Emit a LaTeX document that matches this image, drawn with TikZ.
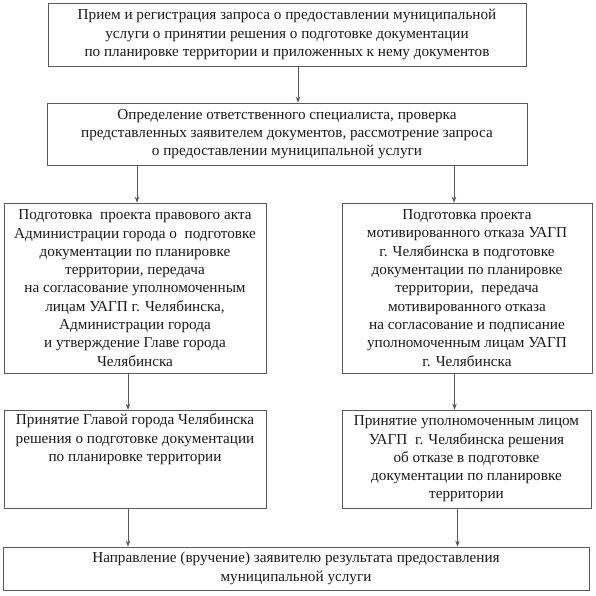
\documentclass[tikz,border=0pt]{standalone}
\usepackage{fontspec}
\setmainfont{Liberation Serif}
\usetikzlibrary{arrows.meta,calc}
\definecolor{ln}{gray}{0.35}
\definecolor{tx}{gray}{0.1}
\tikzset{
  box/.style={draw=ln, line width=0.7pt, rectangle, align=center, inner sep=0pt,
    font=\fontsize{15.2}{18.3}\selectfont, text=tx},
  arr/.style={draw=ln, line width=0.6pt, -{Stealth[length=6pt,width=4.5pt]}}
}
\begin{document}
\begin{tikzpicture}[x=1pt,y=-1pt]
\useasboundingbox (0,0) rectangle (596,595);
\node[box, minimum width=478pt, minimum height=63pt] (b1) at (287,34.5)
 {Прием и регистрация запроса о предоставлении муниципальной\\
  услуги о принятии решения о подготовке документации\\
  по планировке территории и приложенных к нему документов};
\node[box, minimum width=480pt, minimum height=62pt] (b2) at (287,134)
 {Определение ответственного специалиста, проверка\\
  представленных заявителем документов, рассмотрение запроса\\
  о предоставлении муниципальной услуги};
\node[box, minimum width=262pt, minimum height=170pt] (b3l) at (135,288)
 {Подготовка\ \ проекта правового акта\\
  Администрации города о\ \ подготовке\\
  документации по планировке\\
  территории, передача\\
  на согласование уполномоченным\\
  лицам УАГП г. Челябинска,\\
  Администрации города\\
  и утверждение Главе города\\
  Челябинска};
\node[box, minimum width=250pt, minimum height=170pt] (b3r) at (467,288)
 {Подготовка проекта\\
  мотивированного отказа УАГП\\
  г. Челябинска в подготовке\\
  документации по планировке\\
  территории,\ \ передача\\
  мотивированного отказа\\
  на согласование и подписание\\
  уполномоченным лицам УАГП\\
  г. Челябинска};
\node[box, minimum width=262pt, minimum height=98pt] (b4l) at (135,459)
 {\begin{minipage}[c][90pt][t]{258pt}\centering
  Принятие Главой города Челябинска\\
  решения о подготовке документации\\
  по планировке территории\end{minipage}};
\node[box, minimum width=249pt, minimum height=98pt] (b4r) at (466.5,459)
 {Принятие уполномоченным лицом\\
  УАГП\ \ г. Челябинска решения\\
  об отказе в подготовке\\
  документации по планировке\\
  территории};
\node[box, minimum width=586pt, minimum height=43pt] (b5) at (296,568.5)
 {Направление (вручение) заявителю результата предоставления\\
  муниципальной услуги};
\coordinate (c1) at ($(b1.south)+(11pt,0)$);
\coordinate (cl1) at ($(b3l.north)+(2pt,0)$);
\coordinate (cr1) at ($(b3r.north)+(-13pt,0)$);
\coordinate (cl2) at ($(b4l.north)+(-7pt,0)$);
\coordinate (cr2) at ($(b4r.north)+(-12pt,0)$);
\coordinate (cl3) at ($(b4l.south)+(-7pt,0)$);
\coordinate (cr3) at ($(b4r.south)+(-9pt,0)$);
\draw[arr] (c1) -- (c1 |- b2.north);
\draw[arr] (cl1 |- b2.south) -- (cl1);
\draw[arr] (cr1 |- b2.south) -- (cr1);
\draw[arr] (cl2 |- b3l.south) -- (cl2);
\draw[arr] (cr2 |- b3r.south) -- (cr2);
\draw[arr] (cl3) -- (cl3 |- b5.north);
\draw[arr] (cr3) -- (cr3 |- b5.north);
\end{tikzpicture}
\end{document}
